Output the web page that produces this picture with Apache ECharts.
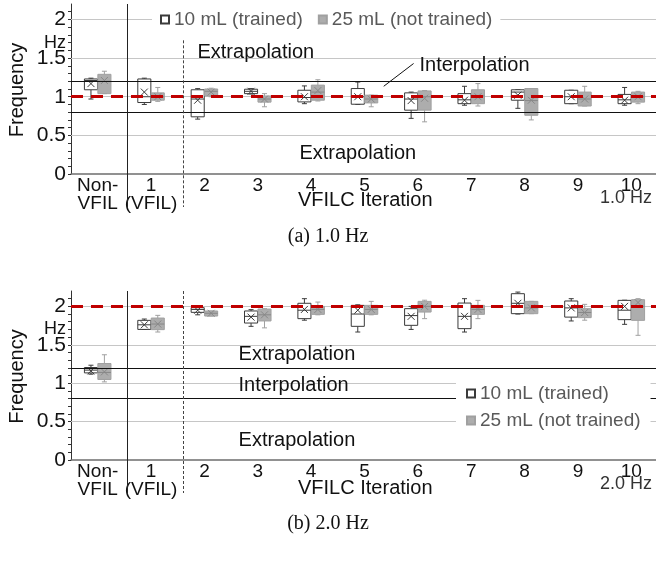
<!DOCTYPE html>
<html>
<head>
<meta charset="utf-8">
<script src="https://cdn.jsdelivr.net/npm/echarts@6.0.0/dist/echarts.min.js"></script>
<style>
  html, body { margin: 0; padding: 0; background: #fff; }
  #chart { width: 656px; height: 570px; }
</style>
</head>
<body>
<div id="chart"></div>
<script>
// categories of the x axis (same for both panels)
var categories = ['Non-\nVFIL', '1\n(VFIL)', '2', '3', '4', '5', '6', '7', '8', '9', '10'];
var seriesNames = ['10 mL (trained)', '25 mL (not trained)'];

// each box: [min, q1, median, q3, max, mean]  (Hz)
var topTrained = [
  [0.97, 1.09, 1.21, 1.23, 1.24, 1.17],
  [0.90, 0.925, 1.00, 1.23, 1.24, 1.06],
  [0.71, 0.74, 0.97, 1.09, 1.105, 0.955],
  [1.035, 1.04, 1.07, 1.097, 1.105, 1.07],
  [0.91, 0.933, 0.99, 1.084, 1.14, 1.00],
  [0.90, 0.903, 1.00, 1.106, 1.19, 1.00],
  [0.72, 0.826, 0.97, 1.05, 1.06, 0.95],
  [0.89, 0.91, 0.96, 1.04, 1.135, 0.955],
  [0.85, 0.955, 1.06, 1.09, 1.09, 1.02],
  [0.91, 0.91, 1.00, 1.084, 1.084, 1.00],
  [0.89, 0.91, 0.96, 1.03, 1.12, 0.955]
];
var topUntrained = [
  [1.04, 1.04, 1.20, 1.29, 1.33, 1.21],
  [0.94, 0.955, 1.00, 1.05, 1.12, 1.00],
  [1.00, 1.01, 1.07, 1.10, 1.11, 1.06],
  [0.87, 0.93, 0.97, 1.01, 1.04, 0.97],
  [0.945, 0.955, 1.06, 1.15, 1.22, 1.08],
  [0.87, 0.92, 0.97, 1.02, 1.02, 0.97],
  [0.675, 0.826, 1.00, 1.075, 1.08, 0.98],
  [0.88, 0.91, 1.01, 1.09, 1.17, 1.00],
  [0.70, 0.76, 0.95, 1.106, 1.106, 0.955],
  [0.88, 0.88, 0.97, 1.06, 1.135, 0.97],
  [0.91, 0.93, 1.00, 1.06, 1.07, 1.00]
];
var bottomTrained = [
  [1.117, 1.134, 1.17, 1.204, 1.234, 1.16],
  [1.70, 1.70, 1.76, 1.818, 1.835, 1.76],
  [1.89, 1.922, 1.96, 1.983, 1.983, 1.95],
  [1.74, 1.783, 1.87, 1.94, 1.957, 1.86],
  [1.82, 1.84, 1.95, 2.04, 2.10, 1.96],
  [1.666, 1.74, 1.90, 2.013, 2.02, 1.95],
  [1.70, 1.753, 1.88, 1.97, 2.00, 1.87],
  [1.666, 1.71, 1.87, 2.043, 2.10, 1.87],
  [1.90, 1.905, 2.04, 2.165, 2.186, 2.04],
  [1.81, 1.86, 1.98, 2.07, 2.10, 1.98],
  [1.766, 1.827, 1.95, 2.078, 2.08, 2.00]
];
var bottomUntrained = [
  [1.017, 1.048, 1.14, 1.256, 1.37, 1.147],
  [1.666, 1.697, 1.77, 1.848, 1.883, 1.77],
  [1.874, 1.874, 1.91, 1.94, 1.94, 1.91],
  [1.72, 1.81, 1.89, 1.965, 1.97, 1.89],
  [1.89, 1.896, 1.96, 2.00, 2.056, 1.96],
  [1.89, 1.896, 1.96, 2.013, 2.065, 1.96],
  [1.84, 1.926, 2.00, 2.065, 2.08, 2.00],
  [1.84, 1.896, 1.96, 2.013, 2.078, 1.96],
  [1.905, 1.905, 1.98, 2.065, 2.065, 1.98],
  [1.82, 1.853, 1.92, 1.97, 2.026, 1.92],
  [1.623, 1.818, 2.00, 2.087, 2.10, 2.05]
];

// reference levels
var gridLevels = [0.5, 1, 1.5, 2];
var bandLevels = [0.8, 1.2];
var targets = [1.0, 2.0];
var panelLabels = ['1.0 Hz', '2.0 Hz'];
var captions = ['(a) 1.0 Hz', '(b) 2.0 Hz'];

var FONT = '"Liberation Sans", Arial, sans-serif';
var chart = echarts.init(document.getElementById('chart'));

function boxRender(side, stroke, fill, markColor) {
  return function (params, api) {
    var band = api.size([1, 0])[0];
    var w = band * 0.245;
    var c = api.value(0);
    var cx = api.coord([c, 0])[0] + side * band * 0.126;
    var x0 = cx - w / 2;
    var pMin = api.coord([c, api.value(1)])[1],
        pQ1 = api.coord([c, api.value(2)])[1],
        pMed = api.coord([c, api.value(3)])[1],
        pQ3 = api.coord([c, api.value(4)])[1],
        pMax = api.coord([c, api.value(5)])[1],
        pMean = api.coord([c, api.value(6)])[1];
    var cap = 2.5, m = 3.5;
    var ls = { stroke: stroke, lineWidth: 1 };
    return {
      type: 'group',
      children: [
        { type: 'line', shape: { x1: cx, y1: pMax, x2: cx, y2: pQ3 }, style: ls },
        { type: 'line', shape: { x1: cx, y1: pQ1, x2: cx, y2: pMin }, style: ls },
        { type: 'line', shape: { x1: cx - cap, y1: pMax, x2: cx + cap, y2: pMax }, style: ls },
        { type: 'line', shape: { x1: cx - cap, y1: pMin, x2: cx + cap, y2: pMin }, style: ls },
        { type: 'rect', shape: { x: x0, y: pQ3, width: w, height: pQ1 - pQ3 },
          style: { fill: fill, stroke: stroke, lineWidth: 1 } },
        { type: 'line', shape: { x1: x0, y1: pMed, x2: x0 + w, y2: pMed }, style: { stroke: markColor, lineWidth: 1 } },
        { type: 'line', shape: { x1: cx - m, y1: pMean - m, x2: cx + m, y2: pMean + m }, style: { stroke: markColor, lineWidth: 1 } },
        { type: 'line', shape: { x1: cx - m, y1: pMean + m, x2: cx + m, y2: pMean - m }, style: { stroke: markColor, lineWidth: 1 } }
      ]
    };
  };
}

function boxSeries(name, rows, gi, side, stroke, fill, markColor) {
  return {
    name: name,
    type: 'custom',
    xAxisIndex: gi,
    yAxisIndex: gi,
    z: 3,
    itemStyle: { color: fill, borderColor: stroke, borderWidth: 1 },
    encode: { x: 0, y: [1, 2, 3, 4, 5, 6] },
    renderItem: boxRender(side, stroke, fill, markColor),
    data: rows.map(function (r, i) { return [i].concat(r); })
  };
}

function levelSeries(gi, levels, color, width, type, z) {
  return {
    type: 'line',
    xAxisIndex: gi,
    yAxisIndex: gi,
    data: [],
    z: z,
    silent: true,
    markLine: {
      z: z,
      silent: true,
      symbol: 'none',
      label: { show: false },
      lineStyle: { color: color, width: width, type: type },
      data: levels.map(function (v) { return { yAxis: v }; })
    }
  };
}

var gridPos = [{ top: 4, height: 170 }, { top: 291, height: 169 }];

var option = {
  animation: false,
  textStyle: { fontFamily: FONT },
  grid: gridPos.map(function (g) {
    return { left: 71, width: 587, top: g.top, height: g.height, containLabel: false, outerBoundsMode: 'none' };
  }),
  xAxis: [0, 1].map(function (gi) {
    return {
      type: 'category',
      gridIndex: gi,
      data: categories,
      axisTick: { show: false },
      axisLine: { lineStyle: { color: '#6e6e6e', width: 1.5 } },
      axisLabel: { fontSize: 19, lineHeight: 18, margin: 3, color: '#111', fontFamily: FONT, interval: 0 },
      splitLine: { show: false }
    };
  }),
  yAxis: [0, 1].map(function (gi) {
    return {
      type: 'value',
      gridIndex: gi,
      min: 0,
      max: 2.2,
      interval: 0.1,
      axisLine: { show: true, lineStyle: { color: '#333', width: 1 } },
      axisTick: { show: true, length: 3, lineStyle: { color: '#333' } },
      splitLine: { show: false },
      axisLabel: {
        margin: 5,
        fontSize: 21,
        color: '#111',
        fontFamily: FONT,
        showMaxLabel: false,
        formatter: function (v) {
          var t = Math.round(v * 10);
          if (t === 17) return '{u|Hz}';
          if (t % 5 === 0 && t <= 20) return String(t / 10);
          return '';
        },
        rich: { u: { fontSize: 18, color: '#111', fontFamily: FONT } }
      }
    };
  }),
  legend: [
    {
      data: seriesNames,
      orient: 'horizontal',
      left: 152,
      top: 8,
      z: 8,
      padding: [2, 8],
      itemGap: 15,
      itemWidth: 8,
      itemHeight: 8,
      icon: 'rect',
      backgroundColor: '#fff',
      textStyle: { fontSize: 19, color: '#595959', fontFamily: FONT }
    },
    {
      data: seriesNames,
      orient: 'vertical',
      left: 456,
      top: 380,
      z: 8,
      padding: [4, 10],
      itemGap: 8,
      itemWidth: 8,
      itemHeight: 8,
      icon: 'rect',
      backgroundColor: '#fff',
      textStyle: { fontSize: 19, color: '#595959', fontFamily: FONT }
    }
  ],
  title: [
    { text: panelLabels[0], right: 4, top: 189, kind: 'sans' },
    { text: panelLabels[1], right: 4, top: 475, kind: 'sans' },
    { text: 'VFILC Iteration', left: 298, top: 190, kind: 'axis' },
    { text: 'VFILC Iteration', left: 298, top: 478, kind: 'axis' },
    { text: captions[0], left: 'center', top: 227, kind: 'serif' },
    { text: captions[1], left: 'center', top: 514, kind: 'serif' }
  ].map(function (t) {
    t.padding = 0;
    if (t.kind === 'sans') {
      t.textStyle = { fontSize: 18, fontWeight: 'normal', color: '#333', fontFamily: FONT };
    } else if (t.kind === 'axis') {
      t.textStyle = { fontSize: 20, fontWeight: 'normal', color: '#111', fontFamily: FONT };
    } else {
      t.textStyle = { fontSize: 20, fontWeight: 'normal', color: '#111', fontFamily: '"Liberation Serif", "Times New Roman", serif' };
    }
    delete t.kind;
    return t;
  }),
  series: [
    levelSeries(0, gridLevels, '#c6c6c6', 1, 'solid', 1),
    levelSeries(1, gridLevels, '#c6c6c6', 1, 'solid', 1),
    levelSeries(0, bandLevels, '#111', 1, 'solid', 4),
    levelSeries(1, bandLevels, '#111', 1, 'solid', 4),
    boxSeries(seriesNames[0], topTrained, 0, -1, '#3a3a3a', '#ffffff', '#3a3a3a'),
    boxSeries(seriesNames[1], topUntrained, 0, 1, '#a0a0a0', '#adadad', '#888888'),
    boxSeries(seriesNames[0], bottomTrained, 1, -1, '#3a3a3a', '#ffffff', '#3a3a3a'),
    boxSeries(seriesNames[1], bottomUntrained, 1, 1, '#a0a0a0', '#adadad', '#888888'),
    levelSeries(0, [targets[0]], '#c00000', 3, [12, 8], 6),
    levelSeries(1, [targets[1]], '#c00000', 3, [12, 8], 6)
  ]
};
chart.setOption(option);

// separators (in category units) and region labels, placed through the axes
var sepSolid = 0.55, sepDashed = 1.6;
var dashedTop = [1.73, 2.2];
var regionText = [
  [{ t: 'Extrapolation', x: 1.87, v: 1.57 }, { t: 'Interpolation', x: 6.03, v: 1.40 }, { t: 'Extrapolation', x: 3.78, v: 0.27 }],
  [{ t: 'Extrapolation', x: 2.64, v: 1.37 }, { t: 'Interpolation', x: 2.64, v: 0.97 }, { t: 'Extrapolation', x: 2.64, v: 0.26 }]
];

function px(gi, cat) {
  var a = chart.convertToPixel({ xAxisIndex: gi }, 0);
  var b = chart.convertToPixel({ xAxisIndex: gi }, 1);
  return a + (b - a) * cat;
}
function py(gi, v) {
  return chart.convertToPixel({ yAxisIndex: gi }, v);
}

var graphics = [];
[0, 1].forEach(function (gi) {
  var yTop = py(gi, 2.2), yBot = py(gi, 0) + 33;
  var xs = Math.round(px(gi, sepSolid)) + 0.5;
  var xd = Math.round(px(gi, sepDashed)) + 0.5;
  graphics.push({
    type: 'line', z: 10,
    shape: { x1: xs, y1: yTop, x2: xs, y2: yBot },
    style: { stroke: '#222', lineWidth: 1 }
  });
  graphics.push({
    type: 'line', z: 10,
    shape: { x1: xd, y1: py(gi, dashedTop[gi]), x2: xd, y2: yBot },
    style: { stroke: '#444', lineWidth: 1, lineDash: [3, 2] }
  });
  regionText[gi].forEach(function (r) {
    graphics.push({
      type: 'text', z: 10,
      x: px(gi, r.x), y: py(gi, r.v),
      style: { text: r.t, fontSize: 20, fontFamily: FONT, fill: '#111', textVerticalAlign: 'middle' }
    });
  });
  // y axis title
  graphics.push({
    type: 'text', z: 10,
    x: 17, y: (py(gi, 0) + py(gi, 2.2)) / 2 + 1,
    rotation: Math.PI / 2,
    style: { text: 'Frequency', fontSize: 20, fontFamily: FONT, fill: '#111', textAlign: 'center', textVerticalAlign: 'middle' }
  });
});
// leader line for the "Interpolation" label of panel (a)
graphics.push({
  type: 'line', z: 10,
  shape: { x1: px(0, 5.36), y1: py(0, 1.135), x2: px(0, 5.92), y2: py(0, 1.43) },
  style: { stroke: '#111', lineWidth: 1 }
});
chart.setOption({ graphic: graphics });
</script>
</body>
</html>
